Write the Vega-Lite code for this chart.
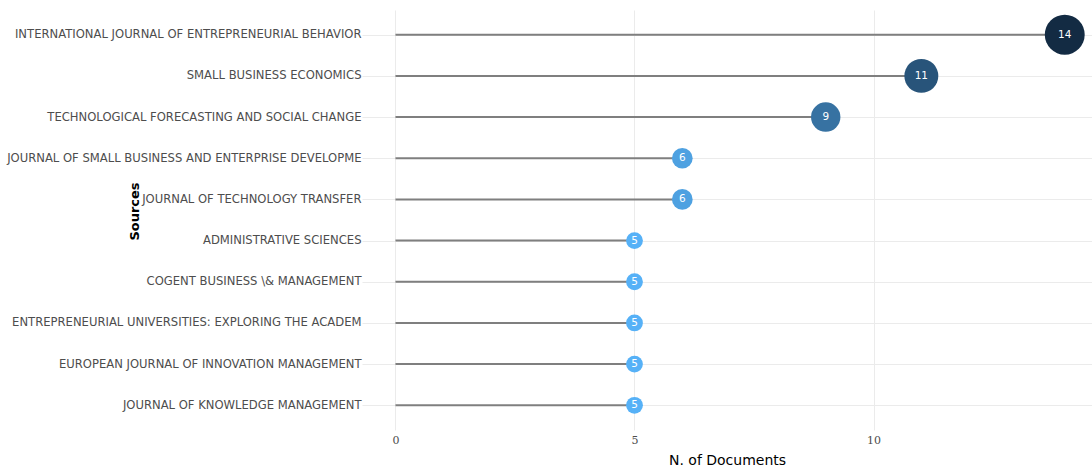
{
  "$schema": "https://vega.github.io/schema/vega-lite/v6.json",
  "autosize": "none",
  "width": 730,
  "height": 420,
  "padding": {"left": 362, "top": 10, "right": 0, "bottom": 40},
  "background": "white",
  "config": {
    "view": {"stroke": null},
    "font": "DejaVu Sans"
  },
  "data": {
    "values": [
      {"source": "INTERNATIONAL JOURNAL OF ENTREPRENEURIAL BEHAVIOR", "n": 14},
      {"source": "SMALL BUSINESS ECONOMICS", "n": 11},
      {"source": "TECHNOLOGICAL FORECASTING AND SOCIAL CHANGE", "n": 9},
      {"source": "JOURNAL OF SMALL BUSINESS AND ENTERPRISE DEVELOPME", "n": 6},
      {"source": "JOURNAL OF TECHNOLOGY TRANSFER", "n": 6},
      {"source": "ADMINISTRATIVE SCIENCES", "n": 5},
      {"source": "COGENT BUSINESS \\& MANAGEMENT", "n": 5},
      {"source": "ENTREPRENEURIAL UNIVERSITIES: EXPLORING THE ACADEM", "n": 5},
      {"source": "EUROPEAN JOURNAL OF INNOVATION MANAGEMENT", "n": 5},
      {"source": "JOURNAL OF KNOWLEDGE MANAGEMENT", "n": 5}
    ]
  },
  "encoding": {
    "y": {
      "field": "source",
      "type": "nominal",
      "sort": null,
      "scale": {"type": "point", "padding": 0.6},
      "axis": {
        "title": "Sources",
        "titleFont": "DejaVu Sans",
        "titleFontSize": 13,
        "titleFontWeight": 600,
        "titleColor": "#000000",
        "titleX": -221,
        "titleY": 201,
        "titleAngle": -90,
        "labelFont": "DejaVu Sans",
        "labelFontSize": 11.6,
        "labelColor": "#4d4d4d",
        "labelPadding": 1,
        "labelLimit": 400,
        "ticks": false,
        "domain": false,
        "grid": true,
        "gridColor": "#ebebeb",
        "gridWidth": 1
      }
    },
    "x": {
      "field": "n",
      "type": "quantitative",
      "scale": {"domain": [-0.7, 14.57], "nice": false, "zero": false},
      "axis": {
        "title": "N. of Documents",
        "titleFont": "DejaVu Sans",
        "titleFontSize": 14,
        "titleFontWeight": "normal",
        "titleColor": "#000000",
        "titlePadding": 8,
        "values": [0, 5, 10],
        "labelFont": "DejaVu Serif",
        "labelFontSize": 11,
        "labelColor": "#4d4d4d",
        "labelPadding": 4,
        "ticks": false,
        "domain": false,
        "grid": true,
        "gridColor": "#ebebeb",
        "gridWidth": 1
      }
    }
  },
  "layer": [
    {
      "mark": {"type": "rule", "color": "#7f7f7f", "strokeWidth": 2},
      "encoding": {
        "x2": {"datum": 0}
      }
    },
    {
      "mark": {"type": "circle", "opacity": 1},
      "encoding": {
        "size": {"field": "n", "type": "quantitative", "scale": {"domain": [5, 14], "range": [283, 1590], "zero": false}, "legend": null},
        "color": {"field": "n", "type": "quantitative", "scale": {"domain": [5, 14], "range": ["#56B1F7", "#132B43"], "interpolate": "lab"}, "legend": null}
      }
    },
    {
      "mark": {"type": "text", "color": "white", "fontSize": 10.5, "font": "DejaVu Sans", "align": "center", "baseline": "middle"},
      "encoding": {
        "text": {"field": "n", "type": "quantitative"}
      }
    }
  ]
}
